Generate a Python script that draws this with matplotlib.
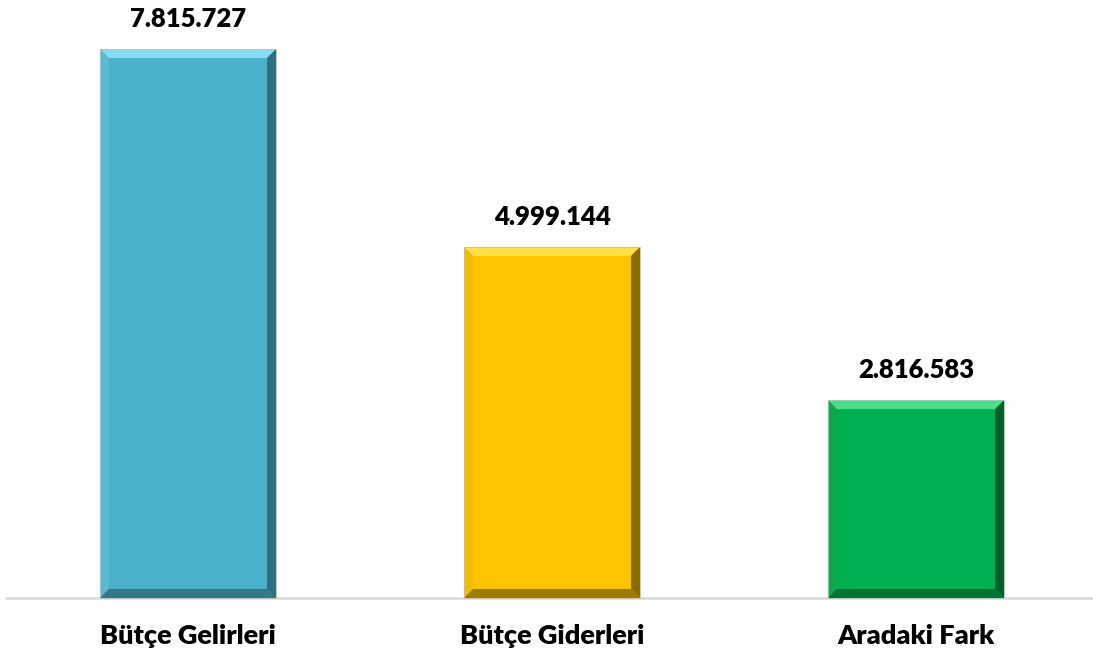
import matplotlib
matplotlib.use('Agg')
import matplotlib.pyplot as plt
from matplotlib.patches import Polygon
from matplotlib.transforms import IdentityTransform

# data
categories = ['Bütçe Gelirleri', 'Bütçe Giderleri', 'Aradaki Fark']
values = [7815727, 4999144, 2816583]
value_labels = ['7.815.727', '4.999.144', '2.816.583']

# face, top bevel, left bevel, right bevel, bottom bevel
colors = [
    ('#4BB1CB', '#86DDF0', '#5BBAD2', '#2E6E80', '#34778A'),
    ('#FFC400', '#FFE04A', '#F2BC00', '#8C6C00', '#A07B00'),
    ('#00B050', '#4CDB88', '#10A64C', '#00602B', '#007533'),
]

plt.rcParams['font.family'] = ['Lato', 'DejaVu Sans']

fig = plt.figure(figsize=(10.93, 6.57), dpi=100)
ax = fig.add_axes([6 / 1093, (657 - 598) / 657, 1092 / 1093, 598 / 657])

x = range(len(categories))
bars = ax.bar(x, values, width=0.484, color=[c[0] for c in colors], zorder=2)

ax.set_xlim(-0.5, len(categories) - 0.5)
ax.set_ylim(0, values[0] * 598 / 549)

for s in ['top', 'right', 'left']:
    ax.spines[s].set_visible(False)
ax.spines['bottom'].set_color('#D9D9D9')
ax.spines['bottom'].set_linewidth(1.8)
ax.set_yticks([])
ax.set_xticks(list(x))
ax.set_xticklabels(categories, fontsize=19.5, fontweight='heavy')
ax.tick_params(axis='x', length=0, pad=19)

for b, lab in zip(bars, value_labels):
    ax.annotate(lab, (b.get_x() + b.get_width() / 2, b.get_height()),
                xytext=(0, 13), textcoords='offset points', ha='center', va='bottom',
                fontsize=18.5, fontweight='heavy', color='black')

# bevel edges drawn in pixel space
fig.canvas.draw()
bev = 9
for b, c in zip(bars, colors):
    e = b.get_window_extent()
    x0, y0, x1, y1 = e.x0, e.y0, e.x1, e.y1
    ix0, iy0, ix1, iy1 = x0 + bev, y0 + bev, x1 - bev, y1 - bev
    polys = [
        ([(x0, y1), (x1, y1), (ix1, iy1), (ix0, iy1)], c[1]),
        ([(x0, y0), (x0, y1), (ix0, iy1), (ix0, iy0)], c[2]),
        ([(x1, y0), (x1, y1), (ix1, iy1), (ix1, iy0)], c[3]),
        ([(x0, y0), (x1, y0), (ix1, iy0), (ix0, iy0)], c[4]),
    ]
    for pts, col in polys:
        fig.add_artist(Polygon(pts, closed=True, facecolor=col, edgecolor='none',
                               transform=IdentityTransform(), zorder=3))
    fig.add_artist(Polygon([(x0, y0), (x1, y0), (x1, y1), (x0, y1)], closed=True,
                           facecolor='none', edgecolor='#BFBFBF', linewidth=0.6,
                           transform=IdentityTransform(), zorder=4))

fig.savefig('out.png', dpi=100)
